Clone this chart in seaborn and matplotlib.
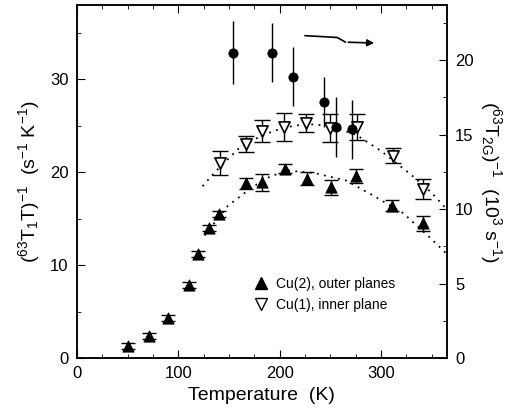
import numpy as np
import pandas as pd
import seaborn as sns
import matplotlib.pyplot as plt
from matplotlib.lines import Line2D
from matplotlib.ticker import MultipleLocator

# Cu(2), outer planes : (T1 T)^-1, left axis
T_cu2 = [50, 71, 90, 111, 119, 130, 140, 167, 183, 205, 227, 251, 275, 311, 341]
R_cu2 = [1.3, 2.4, 4.3, 7.9, 11.2, 14.0, 15.5, 18.8, 18.9, 20.4, 19.3, 18.4, 19.6, 16.4, 14.5]
E_cu2 = [0.3, 0.3, 0.3, 0.3, 0.3, 0.3, 0.3, 0.6, 0.9, 0.5, 0.7, 0.8, 0.8, 0.6, 0.8]

# Cu(1), inner plane : (T1 T)^-1, left axis
T_cu1 = [141, 167, 183, 204, 226, 250, 276, 312, 341]
R_cu1 = [21.0, 23.0, 24.45, 24.9, 25.3, 24.8, 24.9, 21.8, 18.2]
E_cu1 = [1.25, 0.85, 1.2, 1.5, 1.0, 1.5, 1.4, 0.85, 1.1]

# T2G^-1, right axis (10^3 s^-1)
T_t2g = [154, 192, 213, 244, 256, 271]
R_t2g = [20.5, 20.5, 18.9, 17.2, 15.5, 15.35]
E_t2g = [2.1, 2.0, 2.0, 1.7, 2.0, 2.0]

# dotted guide curves
fit_cu2_T = [126, 149, 173, 190, 207, 235, 266, 289, 322, 350, 365]
fit_cu2_R = [13.2, 16.4, 18.4, 19.5, 20.2, 19.9, 19.1, 17.7, 15.6, 12.8, 11.2]
fit_cu1_T = [124, 136, 160, 183, 204, 226, 250, 276, 300, 329, 350, 365]
fit_cu1_R = [18.5, 20.0, 22.6, 24.0, 24.8, 25.2, 25.0, 24.0, 22.3, 19.8, 17.8, 16.0]

# arrow pointing to the right axis
arrow_T = [225, 257, 265, 296]
arrow_R = [34.7, 34.5, 34.0, 33.9]

sns.set_style("ticks")
plt.rcParams['font.family'] = ['Liberation Sans', 'DejaVu Sans']
plt.rcParams['mathtext.fontset'] = 'custom'
plt.rcParams['mathtext.rm'] = 'Liberation Sans'
plt.rcParams['mathtext.it'] = 'Liberation Sans'
plt.rcParams['mathtext.default'] = 'regular'
for k in ['text.color', 'axes.labelcolor', 'xtick.color', 'ytick.color', 'axes.edgecolor']:
    plt.rcParams[k] = 'black'

fig = plt.figure(figsize=(5.13, 4.15), dpi=100)
ax = fig.add_axes([0.150, 0.137, 0.721, 0.851])
ax2 = ax.twinx()

fit2 = pd.DataFrame({"T": fit_cu2_T, "R": fit_cu2_R})
fit1 = pd.DataFrame({"T": fit_cu1_T, "R": fit_cu1_R})
sns.lineplot(data=fit2, x="T", y="R", ax=ax, color="black", linestyle=(0, (1, 3)), lw=1.3)
sns.lineplot(data=fit1, x="T", y="R", ax=ax, color="black", linestyle=(0, (1, 3)), lw=1.3)

ax.errorbar(T_cu2, R_cu2, yerr=E_cu2, fmt='none', ecolor='black', elinewidth=1, capsize=5, capthick=1)
ax.errorbar(T_cu1, R_cu1, yerr=E_cu1, fmt='none', ecolor='black', elinewidth=1, capsize=6, capthick=1)
sns.scatterplot(x=T_cu2, y=R_cu2, ax=ax, marker='^', s=65, color='black', edgecolor='black', zorder=5)
sns.scatterplot(x=T_cu1, y=R_cu1, ax=ax, marker='v', s=65, facecolor='white', edgecolor='black',
                linewidth=1.2, zorder=5)

ax2.errorbar(T_t2g, R_t2g, yerr=E_t2g, fmt='none', ecolor='black', elinewidth=1)
sns.scatterplot(x=T_t2g, y=R_t2g, ax=ax2, marker='o', s=45, color='black', edgecolor='black', zorder=5)

ax.plot(arrow_T[:3], arrow_R[:3], color='black', lw=1.2)
ax.annotate('', xy=(arrow_T[3], arrow_R[3]), xytext=(arrow_T[2], arrow_R[2]),
            arrowprops=dict(arrowstyle='-|>', color='black', lw=1.2, mutation_scale=10))

ax.set_xlim(0, 365)
ax.set_ylim(0, 38)
ax2.set_ylim(0, 23.7)

ax.xaxis.set_major_locator(MultipleLocator(100))
ax.xaxis.set_minor_locator(MultipleLocator(25))
ax.yaxis.set_major_locator(MultipleLocator(10))
ax.yaxis.set_minor_locator(MultipleLocator(5))
ax2.yaxis.set_major_locator(MultipleLocator(5))
ax2.yaxis.set_minor_locator(MultipleLocator(2.5))

ax.tick_params(which='both', direction='in', top=True, right=False, labelsize=12, pad=6)
ax.tick_params(which='major', length=6)
ax.tick_params(which='minor', length=3)
ax2.tick_params(which='both', direction='in', labelsize=12, pad=6)
ax2.tick_params(which='major', length=6)
ax2.tick_params(which='minor', length=3)

for a in (ax, ax2):
    for s in a.spines.values():
        s.set_linewidth(1.1)
        s.set_visible(True)

ax.set_xlabel('Temperature  (K)', fontsize=14, labelpad=4)
ax.set_ylabel(r'$(^{63}T_1T)^{-1}$  $(s^{-1}\ K^{-1})$', fontsize=14, labelpad=6)
ax2.set_ylabel(r'$(^{63}T_{2G})^{-1}$  $(10^3\ s^{-1})$', fontsize=14, rotation=270, labelpad=22)
ax2.set_xlabel('')

handles = [
    Line2D([], [], marker='^', color='black', linestyle='none', markersize=8),
    Line2D([], [], marker='v', markerfacecolor='white', markeredgecolor='black',
           linestyle='none', markersize=8),
]
ax.legend(handles, ['Cu(2), outer planes', 'Cu(1), inner plane'], loc='upper left',
          bbox_to_anchor=(0.435, 0.265), frameon=False, fontsize=10, handletextpad=0.35,
          labelspacing=0.5, handlelength=1.5)

fig.savefig('out.png', dpi=100)
